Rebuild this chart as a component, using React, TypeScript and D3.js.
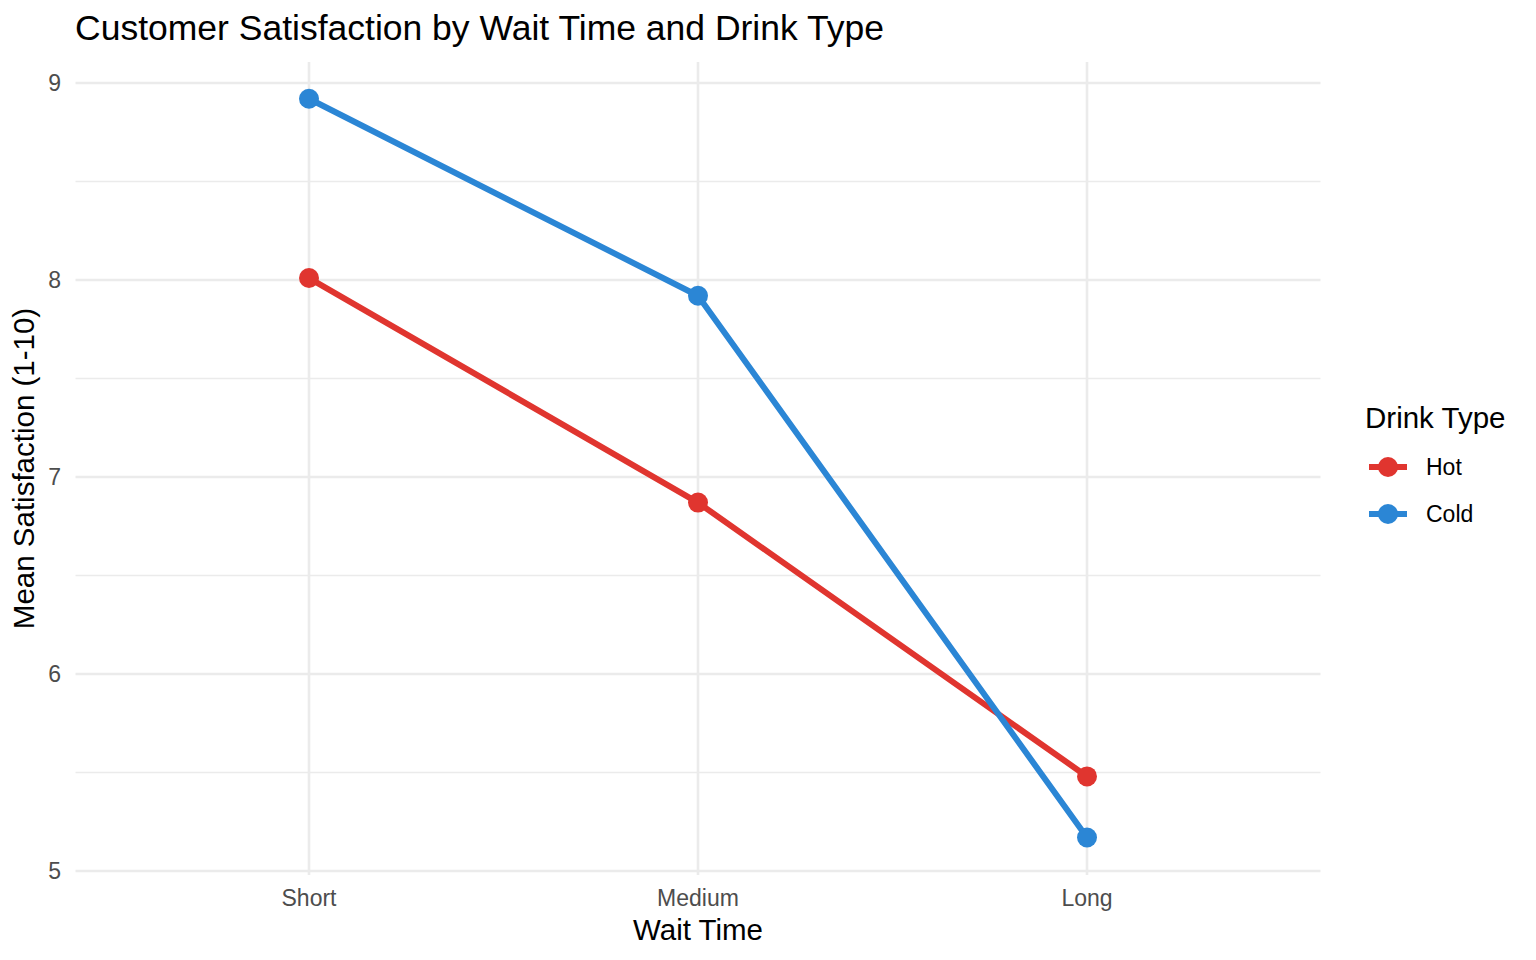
import React, { useEffect, useRef } from "react";
import * as d3 from "d3";

const waitTimes = ["Short", "Medium", "Long"];
const drinkTypes = ["Hot", "Cold"];
const hotValues = [8.01, 6.87, 5.48];
const coldValues = [8.92, 7.92, 5.17];
const yTicks = [5, 6, 7, 8, 9];

const drinkColors: Record<string, string> = {
  Hot: "#E0352F",
  Cold: "#2B86D5",
};

const W = 1536;
const H = 960;
const FONT = "'Liberation Sans', Arial, sans-serif";

export default function App() {
  const svgRef = useRef<SVGSVGElement | null>(null);

  useEffect(() => {
    const svg = d3.select(svgRef.current);
    svg.selectAll("*").remove();

    const panel = { left: 75.5, right: 1320.5, top: 62, bottom: 875 };

    // discrete axis, ggplot style expansion of 0.6 on each side
    const x = d3
      .scalePoint<string>()
      .domain(waitTimes)
      .range([309, 1087]);

    const y = d3.scaleLinear().domain([5, 9]).range([871, 83]);

    const g = svg.append("g");

    // minor grid
    const minor = d3.range(5.5, 9.5, 1).filter((v) => y(v) > panel.top);
    g.selectAll("line.minor")
      .data(minor)
      .enter()
      .append("line")
      .attr("x1", panel.left)
      .attr("x2", panel.right)
      .attr("y1", (d) => y(d))
      .attr("y2", (d) => y(d))
      .attr("stroke", "#EBEBEB")
      .attr("stroke-width", 1.3);

    // major grid
    g.selectAll("line.major")
      .data(yTicks)
      .enter()
      .append("line")
      .attr("x1", panel.left)
      .attr("x2", panel.right)
      .attr("y1", (d) => y(d))
      .attr("y2", (d) => y(d))
      .attr("stroke", "#EBEBEB")
      .attr("stroke-width", 2.6);

    g.selectAll("line.vgrid")
      .data(waitTimes)
      .enter()
      .append("line")
      .attr("x1", (d) => x(d)!)
      .attr("x2", (d) => x(d)!)
      .attr("y1", panel.top)
      .attr("y2", panel.bottom)
      .attr("stroke", "#EBEBEB")
      .attr("stroke-width", 2.6);

    // tick labels
    g.selectAll("text.ytick")
      .data(yTicks)
      .enter()
      .append("text")
      .attr("x", 61)
      .attr("y", (d) => y(d))
      .attr("dy", "0.36em")
      .attr("text-anchor", "end")
      .attr("font-family", FONT)
      .attr("font-size", 23)
      .attr("fill", "#4D4D4D")
      .text((d) => d);

    g.selectAll("text.xtick")
      .data(waitTimes)
      .enter()
      .append("text")
      .attr("x", (d) => x(d)!)
      .attr("y", 906)
      .attr("text-anchor", "middle")
      .attr("font-family", FONT)
      .attr("font-size", 23)
      .attr("fill", "#4D4D4D")
      .text((d) => d);

    // axis titles
    g.append("text")
      .attr("x", (panel.left + panel.right) / 2)
      .attr("y", 940)
      .attr("text-anchor", "middle")
      .attr("font-family", FONT)
      .attr("font-size", 29.5)
      .attr("fill", "#000")
      .text("Wait Time");

    g.append("text")
      .attr("transform", `translate(34, ${(panel.top + panel.bottom) / 2}) rotate(-90)`)
      .attr("text-anchor", "middle")
      .attr("font-family", FONT)
      .attr("font-size", 29.5)
      .attr("fill", "#000")
      .text("Mean Satisfaction (1-10)");

    g.append("text")
      .attr("x", 75)
      .attr("y", 40)
      .attr("font-family", FONT)
      .attr("font-size", 35.5)
      .attr("fill", "#000")
      .text("Customer Satisfaction by Wait Time and Drink Type");

    // series
    const series = [
      { name: "Hot", values: hotValues },
      { name: "Cold", values: coldValues },
    ];

    const line = d3
      .line<number>()
      .x((_, i) => x(waitTimes[i])!)
      .y((d) => y(d));

    series.forEach((s) => {
      g.append("path")
        .attr("d", line(s.values))
        .attr("fill", "none")
        .attr("stroke", drinkColors[s.name])
        .attr("stroke-width", 6)
        .attr("stroke-linejoin", "round");
    });

    series.forEach((s) => {
      g.selectAll(`circle.${s.name}`)
        .data(s.values)
        .enter()
        .append("circle")
        .attr("cx", (_, i) => x(waitTimes[i])!)
        .attr("cy", (d) => y(d))
        .attr("r", 10)
        .attr("fill", drinkColors[s.name]);
    });

    // legend
    const lg = svg.append("g");
    lg.append("text")
      .attr("x", 1365)
      .attr("y", 428)
      .attr("font-family", FONT)
      .attr("font-size", 29.5)
      .attr("fill", "#000")
      .text("Drink Type");

    drinkTypes.forEach((t, i) => {
      const cy = 467 + i * 47;
      lg.append("line")
        .attr("x1", 1369)
        .attr("x2", 1407)
        .attr("y1", cy)
        .attr("y2", cy)
        .attr("stroke", drinkColors[t])
        .attr("stroke-width", 6);
      lg.append("circle")
        .attr("cx", 1388)
        .attr("cy", cy)
        .attr("r", 10)
        .attr("fill", drinkColors[t]);
      lg.append("text")
        .attr("x", 1426)
        .attr("y", cy)
        .attr("dy", "0.36em")
        .attr("font-family", FONT)
        .attr("font-size", 23)
        .attr("fill", "#000")
        .text(t);
    });
  }, []);

  return (
    <svg
      ref={svgRef}
      width={W}
      height={H}
      style={{ position: "absolute", left: 0, top: 0, background: "#fff" }}
    />
  );
}
